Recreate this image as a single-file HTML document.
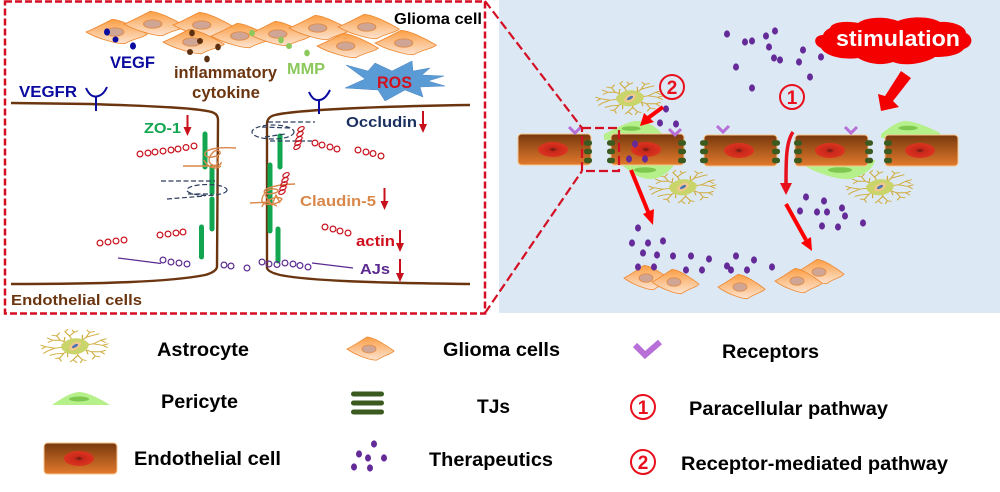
<!DOCTYPE html>
<html><head><meta charset="utf-8"><style>
html,body{margin:0;padding:0;background:#fff;width:1000px;height:492px;overflow:hidden}
svg{display:block}
text{font-family:"Liberation Sans",sans-serif;font-weight:bold}
</style></head><body>
<svg width="1000" height="492" viewBox="0 0 1000 492" xmlns="http://www.w3.org/2000/svg">
<defs>
<linearGradient id="gl" x1="0" y1="0" x2="0" y2="1"><stop offset="0" stop-color="#fb9f45"/><stop offset="1" stop-color="#fde3cf"/></linearGradient>
<linearGradient id="en" x1="0" y1="0" x2="0" y2="1"><stop offset="0" stop-color="#78390e"/><stop offset="1" stop-color="#e27a2c"/></linearGradient>
<radialGradient id="nu"><stop offset="0" stop-color="#5e1a10"/><stop offset=".3" stop-color="#c8281a"/><stop offset="1" stop-color="#dd3320"/></radialGradient>
<g id="glioma"><path d="M-23,0 C-15,-4 -8,-9 -3,-12 C3,-12 16,-4 24,2 C22,5 12,7 7,11 C2,12 -15,6 -23,0Z" fill="url(#gl)" stroke="#ee8a34" stroke-width=".8"/><ellipse cx="-1" cy="0" rx="7" ry="4" fill="#cfa596" stroke="#e08a45" stroke-width=".8"/></g>
<g id="cell"><rect x="0" y="0" width="73" height="31" rx="3.5" fill="url(#en)" stroke="#f7c68e" stroke-width="1"/><ellipse cx="35" cy="15.5" rx="15" ry="7.5" fill="url(#nu)"/></g>
<g id="astro"><g transform="scale(.92,.72)" fill="none" stroke="#d0ac3c" stroke-width="1.300" stroke-linecap="round">
<path d="M-6,-3 L-16,-8 L-24,-8 M-16,-8 L-20,-14 M-24,-8 L-30,-11 M-24,-8 L-29,-5 M-20,-14 L-25,-15 M-20,-14 L-17,-18 M-12,-6 L-11,-12"/>
<path d="M-2,-6 L-6,-14 L-11,-20 M-6,-14 L-1,-19 M-1,-19 L-3,-22 M-1,-19 L3,-21 M-11,-20 L-8,-23"/>
<path d="M5,-5 L12,-12 L16,-19 M12,-12 L20,-15 M16,-19 L13,-22 M16,-19 L21,-20 M20,-15 L26,-17 M8,-8 L8,-15"/>
<path d="M8,-1 L20,-3 L28,-8 M20,-3 L30,-1 M28,-8 L34,-10 M28,-8 L33,-5 M30,-1 L36,-3 M30,-1 L35,2"/>
<path d="M7,3 L18,8 L28,8 M18,8 L22,14 M28,8 L33,6 M28,8 L32,11 M22,14 L27,15 M22,14 L19,18 M12,5 L14,11"/>
<path d="M2,6 L3,13 L8,19 M3,13 L-2,19 M8,19 L12,20 M8,19 L6,23 M-2,19 L-5,22 M-2,19 L2,23"/>
<path d="M-4,5 L-12,10 L-17,17 M-12,10 L-21,11 M-17,17 L-21,17 M-17,17 L-15,21 M-21,11 L-27,13 M-8,8 L-8,15"/>
<path d="M-8,1 L-22,3 L-32,1 M-22,3 L-30,7 M-32,1 L-37,-1 M-32,1 L-36,4 M-30,7 L-34,10"/>
<path d="M-14,-2 C-6,-12 6,-13 14,-4 C16,3 8,10 0,11 C-9,11 -16,5 -14,-2Z" fill="#c9d56a" stroke="#c9d56a"/>
</g>
<ellipse cx="0" cy="0" rx="6.500" ry="3.600" transform="rotate(-30)" fill="#efc98b"/>
<ellipse cx="0" cy="0" rx="3.400" ry="1.500" transform="rotate(-30)" fill="#4f74b5"/>
</g>
<ellipse id="d" rx="3" ry="3.6" fill="#642b98"/>
<g id="tj"><rect x="-4" y="-2.7" width="8" height="5.4" rx="2.5" fill="#3b5a20"/></g>
<path id="rc" d="M-6,-4 L0,2 L6,-4" fill="none" stroke="#b56fd6" stroke-width="3"/>
<circle id="rr" r="2.9" fill="none" stroke="#c8101c" stroke-width="1.2"/>
<circle id="pr" r="2.9" fill="none" stroke="#5b2a90" stroke-width="1.2"/>
</defs>

<rect x="499" y="0" width="501" height="313" fill="#dde8f5"/>

<!-- Glioma cluster -->
<g transform="translate(116,32) scale(1.3,1.05)"><use href="#glioma"/></g>
<g transform="translate(154,24) scale(1.3,1.05)"><use href="#glioma"/></g>
<g transform="translate(203,25) scale(1.3,1.05)"><use href="#glioma"/></g>
<g transform="translate(241,36) scale(1.3,1.05)"><use href="#glioma"/></g>
<g transform="translate(193,42) scale(1.3,1.05)"><use href="#glioma"/></g>
<g transform="translate(279,34) scale(1.3,1.05)"><use href="#glioma"/></g>
<g transform="translate(319,28) scale(1.3,1.05)"><use href="#glioma"/></g>
<g transform="translate(368,27) scale(1.3,1.05)"><use href="#glioma"/></g>
<g transform="translate(347,46) scale(1.3,1.05)"><use href="#glioma"/></g>
<g transform="translate(405,43) scale(1.3,1.05)"><use href="#glioma"/></g>

<g fill="#0a0aa0"><ellipse cx="107" cy="32" rx="3" ry="3.6"/><ellipse cx="115.500" cy="39.500" rx="3" ry="3"/><ellipse cx="133" cy="46" rx="3" ry="3.600"/></g>
<g fill="#5b2f10"><ellipse cx="192" cy="33" rx="2.800" ry="3.400"/><ellipse cx="200" cy="41" rx="3" ry="3"/><ellipse cx="218" cy="47" rx="2.800" ry="3.400"/><ellipse cx="190" cy="52" rx="3" ry="3"/><ellipse cx="207" cy="59" rx="2.800" ry="3.400"/></g>
<g fill="#8cc85a"><ellipse cx="252" cy="33" rx="2.800" ry="3.200"/><ellipse cx="281" cy="40" rx="2.800" ry="3.400"/><ellipse cx="289" cy="46" rx="3" ry="3"/><ellipse cx="307" cy="53" rx="2.800" ry="3.400"/></g>

<text x="110" y="68" font-size="16.500" fill="#0a0aa0" textLength="45" lengthAdjust="spacingAndGlyphs">VEGF</text>
<text x="174" y="78" font-size="16.500" fill="#6b3510" textLength="103" lengthAdjust="spacingAndGlyphs">inflammatory</text>
<text x="192" y="98" font-size="16.500" fill="#6b3510" textLength="68" lengthAdjust="spacingAndGlyphs">cytokine</text>
<text x="287" y="74" font-size="16" fill="#8cc85a" textLength="38" lengthAdjust="spacingAndGlyphs">MMP</text>
<text x="394" y="24" font-size="15.500" fill="#000" textLength="88" lengthAdjust="spacingAndGlyphs">Glioma cell</text>
<text x="19" y="97" font-size="15.500" fill="#0a0aa0" textLength="58" lengthAdjust="spacingAndGlyphs">VEGFR</text>

<!-- ROS star -->
<path d="M346,65 L368,71 L375,63 L392,71 L412,61 L413,71 L430,68 L422,75 L444,76 L428,81 L445,86 L420,87 L423,97 L405,90 L385,101 L378,90 L345,88 L365,79Z" fill="#5b9bd5" stroke="#4a86bf" stroke-width=".5"/>
<text x="377" y="88" font-size="16.500" fill="#d0101c" textLength="35" lengthAdjust="spacingAndGlyphs">ROS</text>

<!-- Membranes -->
<g fill="none" stroke="#6b3510" stroke-width="2.400">
<path d="M11,103 L90,104 C150,106 205,108 214,113 Q218,115 218,120 L217,267 Q216,272 205,275 C170,282 100,284 11,284"/>
<path d="M470,105 C400,106 300,109 275,115 Q267,117 267,124 L267,268 Q268,272 280,275 C310,281 380,283 470,284"/>
</g>
<g fill="none" stroke="#0a0aa0" stroke-width="2"><path d="M86,88 Q90,97 96,96.500 Q103,96 107,87 M96,96 L96,111"/><path d="M309,92 Q313,101 319,100 Q325,100 330,90 M319,100 L319,114"/></g>

<!-- Green bars -->
<g stroke="#12a650" stroke-width="5" stroke-linecap="round">
<path d="M205,134 V167 M212,167 V193 M212,199 V229 M201.500,227 V257 M280,136 V167 M270,165 V231 M278,229 V261"/>
</g>

<!-- Occludin dashes -->
<g fill="none" stroke="#2d3e5e" stroke-width="1.200" stroke-dasharray="5 2.500">
<ellipse cx="273" cy="132" rx="21" ry="7"/><path d="M268,122 L315,122 M270,141 L312,141 M262,127 L290,128 M265,137 L285,134"/>
<ellipse cx="207" cy="190" rx="20" ry="5.500"/><path d="M161,181 L215,181 M167,199 L205,196 M188,194 L212,194"/>
</g>

<!-- Claudin squiggles -->
<g fill="none" stroke="#d9874a" stroke-width="1.400">
<path d="M236,148 C222,147 208,148 205,153 C203,160 222,157 220,152 C216,146 206,158 210,163 C216,170 222,160 216,155 M183,166 L208,166 C218,168 222,164 221,162 M204,160 C208,168 216,170 221,166"/>
<path d="M295,184 C285,184 270,186 265,190 C260,196 280,194 278,190 C270,186 262,194 262,200 C260,206 278,206 282,199 C276,194 262,203 262,207 M250,203 L268,202 L277,206 M265,195 L272,205 L276,195 L280,203"/>
</g>

<!-- Red rings -->
<g>
<use href="#rr" x="140" y="154"/><use href="#rr" x="148" y="153"/><use href="#rr" x="155" y="152"/><use href="#rr" x="163" y="151"/><use href="#rr" x="171" y="150"/><use href="#rr" x="178" y="149"/><use href="#rr" x="186" y="147.500"/><use href="#rr" x="194" y="146"/>
<use href="#rr" x="315" y="143"/><use href="#rr" x="322" y="145"/><use href="#rr" x="330" y="147"/><use href="#rr" x="337" y="149"/>
<use href="#rr" x="358" y="150"/><use href="#rr" x="366" y="152"/><use href="#rr" x="373" y="153.500"/><use href="#rr" x="381" y="156"/>
<use href="#rr" x="100" y="243"/><use href="#rr" x="108" y="242"/><use href="#rr" x="116" y="241"/><use href="#rr" x="124" y="240"/>
<use href="#rr" x="160" y="235"/><use href="#rr" x="168" y="234"/><use href="#rr" x="176" y="233"/><use href="#rr" x="183" y="232"/>
<use href="#rr" x="325" y="227"/><use href="#rr" x="333" y="229"/><use href="#rr" x="340" y="231"/><use href="#rr" x="348" y="233"/>
</g>
<g fill="none" stroke="#c8101c" stroke-width="1.200">
<ellipse cx="301" cy="129" rx="3.500" ry="2" transform="rotate(-30 301 129)"/><ellipse cx="300" cy="134" rx="3.500" ry="2" transform="rotate(-30 300 134)"/><ellipse cx="299" cy="139" rx="3.500" ry="2" transform="rotate(-30 299 139)"/><ellipse cx="298" cy="143" rx="3.500" ry="2" transform="rotate(-30 298 143)"/><ellipse cx="297" cy="147" rx="3.500" ry="2" transform="rotate(-30 297 147)"/>
<ellipse cx="286" cy="175" rx="3.500" ry="2" transform="rotate(-30 286 175)"/><ellipse cx="285" cy="180" rx="3.500" ry="2" transform="rotate(-30 285 180)"/><ellipse cx="284" cy="184" rx="3.500" ry="2" transform="rotate(-30 284 184)"/><ellipse cx="283" cy="188" rx="3.500" ry="2" transform="rotate(-30 283 188)"/><ellipse cx="282" cy="192" rx="3.500" ry="2" transform="rotate(-30 282 192)"/>
</g>

<!-- Purple rings -->
<g>
<use href="#pr" x="163" y="260"/><use href="#pr" x="171" y="262"/><use href="#pr" x="179" y="263"/><use href="#pr" x="187" y="264"/>
<use href="#pr" x="224" y="265"/><use href="#pr" x="231" y="266"/><use href="#pr" x="247" y="268"/>
<use href="#pr" x="262" y="262"/><use href="#pr" x="269" y="264"/><use href="#pr" x="277" y="264.500"/><use href="#pr" x="285" y="263"/><use href="#pr" x="293" y="264"/><use href="#pr" x="300" y="265.500"/><use href="#pr" x="308" y="267"/>
</g>
<path d="M118,258 L161,263.500 M312,263 L353,268" stroke="#5b2a90" stroke-width="1.200" fill="none"/>

<!-- Labels -->
<text x="144" y="133" font-size="15" fill="#12a650" textLength="37" lengthAdjust="spacingAndGlyphs">ZO-1</text>
<text x="346" y="127" font-size="15" fill="#1a2f5f" textLength="71" lengthAdjust="spacingAndGlyphs">Occludin</text>
<text x="300" y="206" font-size="15" fill="#d9874a" textLength="76" lengthAdjust="spacingAndGlyphs">Claudin-5</text>
<text x="356" y="246" font-size="15" fill="#d0101c" textLength="39" lengthAdjust="spacingAndGlyphs">actin</text>
<text x="360" y="274" font-size="15" fill="#5b2a90" textLength="30" lengthAdjust="spacingAndGlyphs">AJs</text>
<text x="11" y="305" font-size="15" fill="#6b3510" textLength="131" lengthAdjust="spacingAndGlyphs">Endothelial cells</text>

<!-- Small arrows -->
<g fill="#c8101c" stroke="#c8101c">
<path d="M187.500,115 V128" stroke-width="2"/><path d="M183.500,127 H191.500 L187.500,136Z" stroke="none"/>
<path d="M423,111 V125" stroke-width="2"/><path d="M419,124 H427 L423,133Z" stroke="none"/>
<path d="M384.500,188 V202" stroke-width="2"/><path d="M380.500,201 H388.500 L384.500,210Z" stroke="none"/>
<path d="M400,230 V244" stroke-width="2"/><path d="M396,243 H404 L400,252Z" stroke="none"/>
<path d="M400,259 V274" stroke-width="2"/><path d="M396,273 H404 L400,282Z" stroke="none"/>
</g>

<!-- Right panel biology -->
<g transform="translate(630,98)"><use href="#astro"/></g>
<g transform="translate(683,187)"><use href="#astro"/></g>
<g transform="translate(880,187)"><use href="#astro"/></g>

<path d="M604,134 C618,128 628,121 637,121 C648,121 658,128 664,136 L664,140 L604,140Z" fill="#b5f08a"/>
<path d="M622,160 L677,160 C672,170 662,179 650,179 C640,179 630,172 622,165Z" fill="#b5f08a"/>
<path d="M881,134 C890,127 898,121 906,121 C918,122 930,128 940,133 L940,138 L881,138Z" fill="#b5f08a"/>
<path d="M803,160 L875,160 C874,168 865,175 850,179 C835,180 815,172 803,165Z" fill="#b5f08a"/>

<g transform="translate(518,134)"><use href="#cell"/></g>
<g transform="translate(611,134)"><use href="#cell"/></g>
<g transform="translate(704,135)"><use href="#cell"/></g>
<g transform="translate(795,135)"><use href="#cell"/></g>
<g transform="translate(885,135)"><use href="#cell"/></g>

<g fill="#7ec850"><ellipse cx="631" cy="128.500" rx="9.500" ry="2.300"/><ellipse cx="645" cy="170" rx="11" ry="2.800"/><ellipse cx="908" cy="128" rx="9.500" ry="2.300"/><ellipse cx="840" cy="170" rx="12" ry="2.800"/></g>

<g>
<use href="#tj" x="588" y="143"/><use href="#tj" x="588" y="151.500"/><use href="#tj" x="588" y="160.500"/>
<use href="#tj" x="611" y="143"/><use href="#tj" x="611" y="151.500"/><use href="#tj" x="611" y="160.500"/>
<use href="#tj" x="682" y="143"/><use href="#tj" x="682" y="151.500"/><use href="#tj" x="682" y="160.500"/>
<use href="#tj" x="704" y="143"/><use href="#tj" x="704" y="151.500"/><use href="#tj" x="704" y="160.500"/>
<use href="#tj" x="776" y="143"/><use href="#tj" x="776" y="151.500"/><use href="#tj" x="776" y="160.500"/>
<use href="#tj" x="798" y="143"/><use href="#tj" x="798" y="151.500"/><use href="#tj" x="798" y="160.500"/>
<use href="#tj" x="869" y="143"/><use href="#tj" x="869" y="151.500"/><use href="#tj" x="869" y="160.500"/>
<use href="#tj" x="888" y="143"/><use href="#tj" x="888" y="151.500"/><use href="#tj" x="888" y="160.500"/>
</g>
<use href="#rc" x="575" y="131"/><use href="#rc" x="675" y="133"/><use href="#rc" x="723" y="130"/><use href="#rc" x="851" y="131"/>

<!-- Therapeutics dots -->
<g>
<use href="#d" x="727" y="34"/><use href="#d" x="745" y="42"/><use href="#d" x="752" y="41"/><use href="#d" x="766" y="36"/><use href="#d" x="775" y="31"/><use href="#d" x="769" y="47"/><use href="#d" x="774" y="58"/><use href="#d" x="780" y="60"/><use href="#d" x="803" y="50"/><use href="#d" x="799" y="62"/><use href="#d" x="821" y="57"/><use href="#d" x="810" y="77"/><use href="#d" x="752" y="88"/><use href="#d" x="736" y="67"/>
<use href="#d" x="666" y="109"/><use href="#d" x="660" y="123"/><use href="#d" x="676" y="124"/><use href="#d" x="635" y="144"/><use href="#d" x="629" y="159"/><use href="#d" x="645" y="159"/>
<use href="#d" x="806" y="197"/><use href="#d" x="824" y="201"/><use href="#d" x="842" y="208"/><use href="#d" x="800" y="211"/><use href="#d" x="817" y="212"/><use href="#d" x="827" y="212"/><use href="#d" x="845" y="216"/><use href="#d" x="822" y="226"/><use href="#d" x="838" y="227"/><use href="#d" x="863" y="223"/>
</g>

<g transform="translate(647,278) scale(1,1.05)"><use href="#glioma"/></g>
<g transform="translate(675,282) scale(1,1.05)"><use href="#glioma"/></g>
<g transform="translate(741,287) scale(1,1.05)"><use href="#glioma"/></g>
<g transform="translate(820,272) scale(1,1.05)"><use href="#glioma"/></g>
<g transform="translate(798,281) scale(1,1.05)"><use href="#glioma"/></g>
<g>
<use href="#d" x="638" y="228"/><use href="#d" x="632" y="243"/><use href="#d" x="648" y="243"/><use href="#d" x="663" y="241"/><use href="#d" x="643" y="253"/><use href="#d" x="657" y="255"/><use href="#d" x="673" y="256"/><use href="#d" x="691" y="256"/><use href="#d" x="709" y="259"/><use href="#d" x="638" y="267"/><use href="#d" x="654" y="267"/><use href="#d" x="686" y="270"/><use href="#d" x="702" y="270"/><use href="#d" x="727" y="266"/><use href="#d" x="731" y="270"/><use href="#d" x="747" y="270"/><use href="#d" x="736" y="256"/><use href="#d" x="754" y="260"/><use href="#d" x="772" y="267"/>
</g>

<!-- Stimulation cloud -->
<path d="M830,28 C832,21 850,21 858,23 C866,17 885,16 898,21 C910,16 930,16 940,22 C952,21 966,26 966,33 C974,37 973,46 964,49 C958,56 945,57 935,57 C926,63 905,67 893,62 C882,66 868,64 858,58 C845,60 826,57 821,48 C812,44 814,35 823,35 C824,32 826,30 830,28Z" fill="#f40000"/>
<text x="836" y="46" font-size="22" fill="#fff" textLength="124" lengthAdjust="spacingAndGlyphs">stimulation</text>
<path d="M901,71 L911,78 L893,101 L899,107 L881,111 L878,94 L885,96Z" fill="#f40000"/>

<!-- Pathway arrows -->
<g fill="none" stroke="#e8101c" stroke-width="2">
<circle cx="792" cy="97" r="12"/><circle cx="672" cy="87" r="12"/>
</g>
<text x="792" y="104" font-size="19" fill="#e8101c" text-anchor="middle">1</text>
<text x="672" y="94" font-size="19" fill="#e8101c" text-anchor="middle">2</text>
<path d="M663,107 L648,118" stroke="#f00" stroke-width="4" fill="none"/>
<path d="M640,126 L644,113 L654,122Z" fill="#f00"/>
<path d="M793,132 C786,142 786,160 786,184" stroke="#e8101c" stroke-width="3.500" fill="none"/>
<path d="M780,183 H792 L786,195Z" fill="#e8101c"/>
<path d="M631,170 L649,214" stroke="#f00" stroke-width="4" fill="none"/>
<path d="M653,225 L643,214 L654,209Z" fill="#f00"/>
<path d="M786,204 L806,240" stroke="#f00" stroke-width="4" fill="none"/>
<path d="M812,251 L801,243 L811,237Z" fill="#f00"/>

<!-- Red dashed callouts -->
<g fill="none" stroke="#d40f24">
<rect x="5" y="1.500" width="480" height="312" stroke-width="2.500" stroke-dasharray="7 3"/>
<path d="M485,1 L582,128 M485,313 L582,171" stroke-width="2.200" stroke-dasharray="9 4"/>
<rect x="582" y="128" width="37" height="43" stroke-width="2.200" stroke-dasharray="9 4"/>
</g>

<!-- Legend -->
<g transform="translate(75,346)"><use href="#astro"/></g>
<path d="M52,405 C62,398 72,392 80,392 C90,393 102,400 110,405Z" fill="#b5f08a"/><ellipse cx="79" cy="399" rx="10" ry="2.500" fill="#7ec850"/>
<g transform="translate(44,443)"><use href="#cell"/></g>
<g transform="translate(370,349)"><use href="#glioma"/></g>
<rect x="351" y="391.500" width="33" height="5" rx="2.500" fill="#3b5a20"/><rect x="351" y="400.500" width="33" height="5" rx="2.500" fill="#3b5a20"/><rect x="351" y="409.500" width="33" height="5" rx="2.500" fill="#3b5a20"/>
<use href="#d" x="374" y="444"/><use href="#d" x="359" y="454"/><use href="#d" x="368" y="458"/><use href="#d" x="384" y="458"/><use href="#d" x="354" y="467"/><use href="#d" x="370" y="468"/>
<path d="M635,345 L645,355 L660,342" fill="none" stroke="#b86fd8" stroke-width="6"/>
<g fill="none" stroke="#e8101c" stroke-width="2"><circle cx="643" cy="407" r="12"/><circle cx="643" cy="462" r="12"/></g>
<text x="643" y="414" font-size="19" fill="#e8101c" text-anchor="middle">1</text>
<text x="643" y="469" font-size="19" fill="#e8101c" text-anchor="middle">2</text>

<g fill="#000" font-size="19">
<text x="157" y="356" textLength="92" lengthAdjust="spacingAndGlyphs">Astrocyte</text>
<text x="161" y="408" textLength="77" lengthAdjust="spacingAndGlyphs">Pericyte</text>
<text x="134" y="465" textLength="147" lengthAdjust="spacingAndGlyphs">Endothelial cell</text>
<text x="443" y="356" textLength="117" lengthAdjust="spacingAndGlyphs">Glioma cells</text>
<text x="477" y="413" textLength="33" lengthAdjust="spacingAndGlyphs">TJs</text>
<text x="429" y="466" textLength="124" lengthAdjust="spacingAndGlyphs">Therapeutics</text>
<text x="722" y="358" textLength="97" lengthAdjust="spacingAndGlyphs">Receptors</text>
<text x="689" y="415" textLength="199" lengthAdjust="spacingAndGlyphs">Paracellular pathway</text>
<text x="681" y="470" textLength="267" lengthAdjust="spacingAndGlyphs">Receptor-mediated pathway</text>
</g>
</svg>
</body></html>
